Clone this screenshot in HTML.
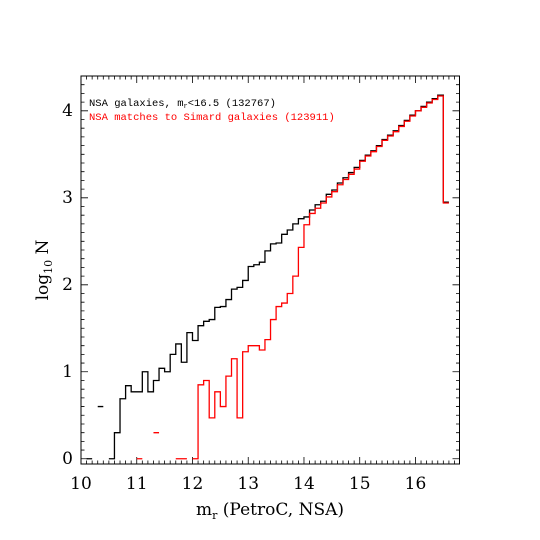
<!DOCTYPE html>
<html><head><meta charset="utf-8"><style>
html,body{margin:0;padding:0;background:#fff;}
svg{display:block;}
text{font-family:"DejaVu Serif","Liberation Serif",serif;}
</style></head><body>
<svg id="chart" width="540" height="540" viewBox="0 0 540 540" xmlns="http://www.w3.org/2000/svg">
<g id="axes"></g>
<g id="series"></g>
<text x="89" y="106" font-size="10.5" fill="#000" style="font-family:'Liberation Mono',monospace">NSA galaxies, m<tspan font-size="7" dy="2">r</tspan><tspan dy="-2">&lt;16.5 (132767)</tspan></text>
<text x="89" y="120" font-size="10.5" fill="#ff0000" style="font-family:'Liberation Mono',monospace">NSA matches to Simard galaxies (123911)</text>
<text x="270" y="515" font-size="17" text-anchor="middle">m<tspan font-size="11" dy="4">r</tspan><tspan dy="-4"> (PetroC, NSA)</tspan></text>
<text transform="translate(48,270) rotate(-90)" font-size="17" text-anchor="middle">log<tspan font-size="11" dy="4">10</tspan><tspan dy="-4"> N</tspan></text>
</svg>
<script>
const binStart = 10.0;
const binWidth = 0.1;
const blackValues = [null,0,null,0.60,null,0,0.30,0.69,0.84,0.77,0.77,1.00,0.77,0.90,1.04,1.00,1.20,1.32,1.11,1.45,1.36,1.53,1.58,1.60,1.74,1.75,1.83,1.95,1.97,2.05,2.21,2.23,2.26,2.39,2.47,2.48,2.58,2.63,2.70,2.76,2.78,2.86,2.92,2.96,3.04,3.09,3.17,3.23,3.29,3.35,3.43,3.49,3.54,3.60,3.67,3.72,3.77,3.83,3.89,3.95,4.00,4.05,4.10,4.14,4.18,2.95];
const redValues = [null,null,null,null,null,null,null,null,null,null,0,null,null,0.30,null,null,null,0,0,null,0,0.85,0.90,0.47,0.77,0.60,0.95,1.15,0.47,1.23,1.30,1.30,1.25,1.37,1.60,1.75,1.79,1.90,2.10,2.43,2.69,2.82,2.88,2.94,3.01,3.07,3.15,3.21,3.27,3.33,3.42,3.48,3.53,3.59,3.66,3.71,3.76,3.82,3.88,3.94,4.00,4.04,4.09,4.13,4.17,2.94];
const xTicks = [10,11,12,13,14,15,16];
const yTicks = [0,1,2,3,4];

const NS="http://www.w3.org/2000/svg";
const L=81,R=459.5,T=76,B=464;
const xMin=10,xMax=16.79,yMin=-0.06,yMax=4.4;
const X=v=>L+(v-xMin)/(xMax-xMin)*(R-L);
const Y=v=>B-(v-yMin)/(yMax-yMin)*(B-T);
function mk(tag,attrs,parent){const e=document.createElementNS(NS,tag);for(const k in attrs)e.setAttribute(k,attrs[k]);parent.appendChild(e);return e;}
const axes=document.getElementById('axes');
const frame=mk('rect',{x:L,y:T,width:R-L,height:B-T,fill:'none',stroke:'#000','stroke-width':1},axes);


let d='';
for(let i=0;i<=68;i++){const v=10+i*0.1;if(v>xMax)break;const x=X(v);const len=(i%10===0)?7:3.5;d+=`M${x},${B}v${-len}M${x},${T}v${len}`;}
for(let i=0;i<=44;i++){const v=i*0.1;const y=Y(v);const len=(i%10===0)?7:3.5;d+=`M${L},${y}h${len}M${R},${y}h${-len}`;}
const tk=mk('path',{d:d,stroke:'#000','stroke-width':0.8,fill:'none'},axes);


xTicks.forEach(v=>{const t=mk('text',{x:X(v),y:B+25,'font-size':17,'text-anchor':'middle'},axes);t.textContent=v;

});
yTicks.forEach(v=>{const t=mk('text',{x:L-8,y:Y(v)+5,'font-size':17,'text-anchor':'end'},axes);t.textContent=v;

});
function stepPath(vals){let p='';let prev=null;
vals.forEach((v,i)=>{if(v===null){prev=null;return;}const x0=X(binStart+i*binWidth),x1=X(binStart+(i+1)*binWidth),y=Y(v);
if(prev===null)p+=`M${x0},${y}`;else p+=`L${x0},${y}`;p+=`L${x1},${y}`;prev=v;});return p;}
const ser=document.getElementById('series');
const bp=mk('path',{d:stepPath(blackValues),stroke:'#000','stroke-width':1.3,fill:'none'},ser);


const rp=mk('path',{d:stepPath(redValues),stroke:'#ff0000','stroke-width':1.3,fill:'none'},ser);


</script>
</body></html>
